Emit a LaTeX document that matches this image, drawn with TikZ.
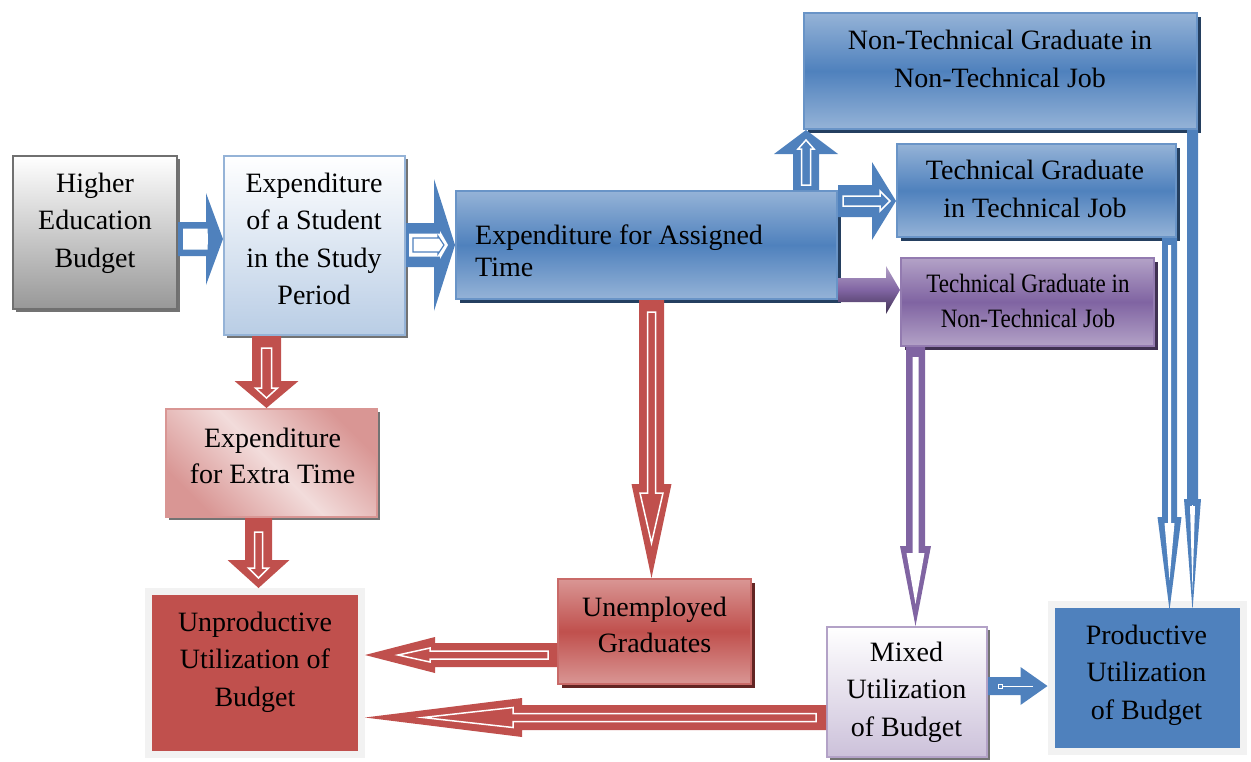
\documentclass[tikz,border=0pt]{standalone}
\usepackage{fontspec}
\setmainfont{Liberation Serif}
\newfontfamily\condfont[FakeStretch=0.87]{Liberation Serif}
\usetikzlibrary{calc,shadows}
\definecolor{blueA}{HTML}{4F81BD}
\definecolor{blueL}{HTML}{95B3D7}
\definecolor{blueB}{HTML}{B9CDE5}
\definecolor{blueD}{HTML}{243F60}
\definecolor{redA}{HTML}{C0504D}
\definecolor{redL}{HTML}{D99694}
\definecolor{redP}{HTML}{F2DCDB}
\definecolor{redD}{HTML}{632523}
\definecolor{purA}{HTML}{8064A2}
\definecolor{purL}{HTML}{B3A2C7}
\definecolor{purD}{HTML}{3F3151}
\definecolor{lav}{HTML}{CCC1DA}
\definecolor{grayM}{HTML}{989898}
\definecolor{grayB}{HTML}{707070}
\definecolor{frameG}{HTML}{F2F2F2}
% block arrow: #1 style, #2 start, #3 tip, #4 shaft half width, #5 head half width, #6 head length
\newcommand\BA[6]{%
  \coordinate (baS) at #2;
  \coordinate (baE) at #3;
  \coordinate (baH) at ($(baE)!#6!(baS)$);
  \path[#1] ($(baS)!#4!90:(baE)$) -- ($(baH)!#4!-90:(baS)$) -- ($(baH)!#5!-90:(baS)$)
    -- (baE) -- ($(baH)!#5!90:(baS)$) -- ($(baH)!#4!90:(baS)$) -- ($(baS)!#4!-90:(baE)$) -- cycle;
}
\begin{document}
\begin{tikzpicture}[x=1pt,y=-1pt,
  box/.style={rectangle, inner sep=0pt, line width=2pt},
  grayshadow/.style={drop shadow={fill=black!55, opacity=1, shadow xshift=3pt, shadow yshift=-3pt}},
  blueshade/.style={box, draw=blueA!85!white, top color=blueL, bottom color=blueL, middle color=blueA,
     drop shadow={fill=blueD, opacity=1, shadow xshift=4pt, shadow yshift=-4pt}},
  txt/.style={inner sep=0pt, align=center, font=\fontsize{28}{37.5}\selectfont},
  wline/.style={draw=white, line width=1.5pt}]
\useasboundingbox (0,0) rectangle (1251,761);

% ---------- boxes ----------
\node[box, draw=grayB, top color=white, bottom color=grayM, grayshadow,
      minimum width=164pt, minimum height=153pt] (hb) at (95,232.5) {};
\node[box, draw=blueL, top color=white, bottom color=blueB, grayshadow,
      minimum width=181pt, minimum height=179pt] (es) at (314.5,245.5) {};
\node[blueshade, minimum width=381pt, minimum height=108pt] (at) at (646.5,245) {};
\node[blueshade, minimum width=393pt, minimum height=116pt] (nn) at (1000.5,71) {};
\node[blueshade, minimum width=279pt, minimum height=93pt] (tt) at (1036.5,190.5) {};
\node[box, draw=purA!85!white, top color=purL, bottom color=purL, middle color=purA,
      drop shadow={fill=purD, opacity=1, shadow xshift=4pt, shadow yshift=-4pt},
      minimum width=253pt, minimum height=88pt] (tn) at (1027.5,302) {};
\node[box, draw=redL, shading=axis, top color=redL, bottom color=redL, middle color=redP, shading angle=-45,
      grayshadow, minimum width=211pt, minimum height=108pt] (ex) at (271.5,463) {};
\node[rectangle, inner sep=0pt, line width=7pt, draw=frameG, fill=redA,
      drop shadow={fill=black!45, opacity=1, shadow xshift=2pt, shadow yshift=-2pt},
      minimum width=213pt, minimum height=163pt] (up) at (255,673) {};
\node[box, draw=redA!85!white, top color=redL, bottom color=redL, middle color=redA,
      drop shadow={fill=redD, opacity=1, shadow xshift=4pt, shadow yshift=-4pt},
      minimum width=193pt, minimum height=105pt] (ug) at (654.5,631.5) {};
\node[box, draw=purL, top color=white, bottom color=lav, grayshadow,
      minimum width=160pt, minimum height=130pt] (mx) at (907,692) {};
\node[rectangle, inner sep=0pt, line width=7pt, draw=frameG, fill=blueA,
      drop shadow={fill=black!45, opacity=1, shadow xshift=2pt, shadow yshift=-2pt},
      minimum width=192pt, minimum height=147pt] (pr) at (1147,678) {};

% ---------- texts ----------
\node[txt] (hbt) at (95,223) {Higher\\Education\\Budget};
\node[txt] (est) at (314,239) {Expenditure\\of a Student\\in the Study\\Period};
\node[txt, align=left, anchor=west, font=\fontsize{28}{32}\selectfont] (att) at (475,250.5) {Expenditure for Assigned\\Time};
\node[txt] (nnt) at (1000,59) {Non-Technical Graduate in\\Non-Technical Job};
\node[txt] (ttt) at (1035,189) {Technical Graduate\\in Technical Job};
\node[txt, font=\condfont\fontsize{26.5}{35}\selectfont] (tnt) at (1028,300.5) {Technical Graduate in\\Non-Technical Job};
\node[txt, font=\fontsize{28}{36}\selectfont] (ext) at (272.5,456) {Expenditure\\for Extra Time};
\node[txt] (upt) at (255,662) {Unproductive\\Utilization of\\Budget};
\node[txt, font=\fontsize{28}{36}\selectfont] (ugt) at (654.5,625) {Unemployed\\Graduates};
\node[txt] (mxt) at (906.5,692) {Mixed\\Utilization\\of Budget};
\node[txt] (prt) at (1146.5,675) {Productive\\Utilization\\of Budget};

% ---------- arrows ----------
% Higher -> Student
\BA{fill=blueA}{(hb.east |- 0,239)}{(es.west |- 0,239)}{17pt}{46pt}{17pt}
\BA{fill=white}{($(hb.east |- 0,239)+(5,0)$)}{($(es.west |- 0,239)+(-15,0)$)}{10.5pt}{10.5pt}{0.5pt}
% Student -> Assigned
\BA{fill=blueA}{(es.east |- 0,245)}{(at.west |- 0,245)}{22pt}{66pt}{21pt}
\BA{fill=white}{($(es.east |- 0,245)+(3,0)$)}{($(at.west |- 0,245)+(-7,0)$)}{11.5pt}{14pt}{8pt}
\BA{draw=blueA, line width=1.2pt, fill=white}{($(es.east |- 0,245)+(7,0)$)}{($(at.west |- 0,245)+(-11,0)$)}{7pt}{9pt}{6pt}
% Assigned -> Non-Technical (up)
\BA{fill=blueA}{(at.north -| 806,0)}{(nn.south -| 806,0)}{13pt}{32pt}{24pt}
\BA{wline, fill=blueA}{($(at.north -| 806,0)+(0,-5)$)}{($(nn.south -| 806,0)+(0,10)$)}{4.5pt}{8pt}{9pt}
% Assigned -> Technical
\BA{fill=blueA}{(at.east |- 0,201)}{(tt.west |- 0,201)}{16pt}{39pt}{24pt}
\BA{wline, fill=blueA}{($(at.east |- 0,201)+(5,0)$)}{($(tt.west |- 0,201)+(-6,0)$)}{5pt}{10pt}{10pt}
% Assigned -> Technical in Non-Technical (purple)
\BA{top color=purL, bottom color=purD, middle color=purA}{(at.east |- 0,290)}{(tn.west |- 0,290)}{12pt}{24pt}{14pt}
% Student -> Extra
\BA{fill=redA}{(es.south -| 266.5,0)}{(ex.north -| 266.5,0)}{14.5pt}{32pt}{27pt}
\BA{wline, fill=redA}{($(es.south -| 266.5,0)+(0,12)$)}{($(ex.north -| 266.5,0)+(0,-10)$)}{5pt}{11pt}{10pt}
% Extra -> Unproductive
\BA{fill=redA}{(ex.south -| 258.5,0)}{(up.north -| 258.5,0)}{13.5pt}{31pt}{28pt}
\BA{wline, fill=redA}{($(ex.south -| 258.5,0)+(0,14)$)}{($(up.north -| 258.5,0)+(0,-10)$)}{4pt}{10pt}{10pt}
% Assigned -> Unemployed
\BA{fill=redA}{(at.south -| 651.5,0)}{(ug.north -| 651.5,0)}{12.5pt}{20pt}{94pt}
\BA{wline, fill=redA}{($(at.south -| 651.5,0)+(0,12)$)}{($(ug.north -| 651.5,0)+(0,-35)$)}{4pt}{11.5pt}{50pt}
% Unemployed -> Unproductive
\BA{fill=redA}{(ug.west |- 0,655)}{(up.east |- 0,655)}{12pt}{18pt}{70pt}
\BA{wline, fill=redA}{($(ug.west |- 0,655)+(-9,0)$)}{($(up.east |- 0,655)+(33,0)$)}{4pt}{7pt}{32pt}
% Mixed -> Unproductive
\BA{fill=redA}{(mx.west |- 0,717.5)}{(up.east |- 0,717.5)}{12.5pt}{19.5pt}{157pt}
\BA{wline, fill=redA}{($(mx.west |- 0,717.5)+(-10,0)$)}{($(up.east |- 0,717.5)+(58,0)$)}{4pt}{10pt}{90pt}
% Technical in Non-Technical -> Mixed (purple)
\BA{fill=purA}{(tn.south -| 915.5,0)}{(mx.north -| 915.5,0)}{9.5pt}{15.5pt}{80pt}
\BA{fill=white}{($(tn.south -| 915.5,0)+(0,10)$)}{($(mx.north -| 915.5,0)+(0,-22)$)}{3pt}{9pt}{51pt}
% Technical -> Productive
\BA{fill=blueA}{(tt.south -| 1169.5,0)}{($(pr.north -| 1169.5,0)+(0,9)$)}{7.5pt}{12pt}{93pt}
\BA{fill=white}{($(tt.south -| 1169.5,0)+(0,7)$)}{($(pr.north -| 1169.5,0)+(0,-21)$)}{1.5pt}{5pt}{57pt}
% Non-Technical -> Productive
\BA{fill=blueA}{(nn.south -| 1192.5,0)}{($(pr.north -| 1192.5,0)+(0,9)$)}{5.5pt}{8.5pt}{111pt}
\BA{fill=white}{($(pr.north -| 1192.5,0)+(0,-96)$)}{($(pr.north -| 1192.5,0)+(0,-11)$)}{0.4pt}{2.5pt}{84pt}
% Mixed -> Productive
\BA{fill=blueA}{(mx.east |- 0,686)}{(pr.west |- 0,686)}{9pt}{19pt}{27pt}
\draw[white, line width=0.8pt] ($(mx.east |- 0,686)+(14,0)$) -- ($(pr.west |- 0,686)+(-15,0)$);
\draw[white, line width=0.8pt] ($(mx.east |- 0,686)+(10,-2)$) rectangle ($(mx.east |- 0,686)+(14,2)$);
\end{tikzpicture}
\end{document}
